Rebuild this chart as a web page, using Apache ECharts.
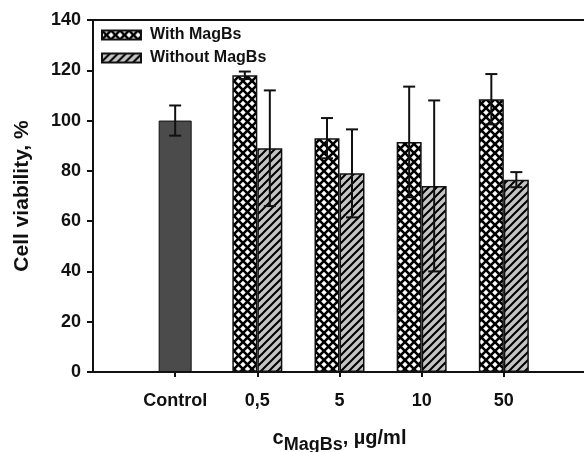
<!DOCTYPE html>
<html>
<head>
<meta charset="utf-8">
<script src="https://cdn.jsdelivr.net/npm/echarts@6/dist/echarts.min.js"></script>
<style>
  html, body { margin: 0; padding: 0; background: #fff; }
  #chart { width: 584px; height: 452px; }
</style>
</head>
<body>
<div id="chart"></div>
<script>
// data
const groups = ['0,5', '5', '10', '50'];
const categories = ['', 'Control', ...groups, ''];
const controlMean = 100;
const controlErr = 6;
const withMean = [118, 93, 91.5, 108.5];
const withErr = [1.5, 8, 22, 10];
const withoutMean = [89, 79, 74, 76.5];
const withoutErr = [23, 17.5, 34, 3];

const FONT = "'Liberation Sans', Arial, sans-serif";
const BAR_W = 25;
const CTRL_W = 33;

// hatch patterns
function crossHatch() {
  const c = document.createElement('canvas');
  c.width = 9; c.height = 9;
  const ctx = c.getContext('2d');
  ctx.fillStyle = '#fff';
  ctx.fillRect(0, 0, 9, 9);
  ctx.strokeStyle = '#000';
  ctx.lineWidth = 2.6;
  ctx.beginPath();
  ctx.moveTo(-2, -2); ctx.lineTo(11, 11);
  ctx.moveTo(-2, 11); ctx.lineTo(11, -2);
  ctx.stroke();
  return c;
}
function diagHatch() {
  const c = document.createElement('canvas');
  c.width = 8; c.height = 8;
  const ctx = c.getContext('2d');
  ctx.fillStyle = '#c4c4c4';
  ctx.fillRect(0, 0, 8, 8);
  ctx.strokeStyle = '#000';
  ctx.lineWidth = 2;
  ctx.beginPath();
  ctx.moveTo(-2, 10); ctx.lineTo(10, -2);
  ctx.moveTo(-6, 6); ctx.lineTo(6, -6);
  ctx.moveTo(2, 14); ctx.lineTo(14, 2);
  ctx.stroke();
  return c;
}

const pad = (arr) => ['-', '-', ...arr, '-'];
const controlData = categories.map(c => c === 'Control' ? controlMean : '-');

function errBars(offset) {
  return function (params, api) {
    const x = api.value(0);
    const v = api.value(1);
    const e = api.value(2);
    const top = api.coord([x, v + e]);
    const bot = api.coord([x, v - e]);
    const cx = top[0] + offset;
    const st = { stroke: '#111', lineWidth: 2 };
    return {
      type: 'group',
      children: [
        { type: 'line', shape: { x1: cx, y1: top[1], x2: cx, y2: bot[1] }, style: st },
        { type: 'line', shape: { x1: cx - 6, y1: top[1], x2: cx + 6, y2: top[1] }, style: st },
        { type: 'line', shape: { x1: cx - 6, y1: bot[1], x2: cx + 6, y2: bot[1] }, style: st }
      ]
    };
  };
}

let option = {
  animation: false,
  grid: { left: 93, top: 20, width: 493, height: 352, outerBoundsMode: 'none' },
  legend: {
    data: ['With MagBs', 'Without MagBs'],
    orient: 'vertical',
    left: 101,
    top: 27,
    icon: 'rect',
    itemWidth: 39,
    itemHeight: 9,
    itemGap: 7,
    padding: 0,
    selectedMode: false,
    textStyle: { fontFamily: FONT, fontWeight: 'bold', fontSize: 16, color: '#111', padding: [0, 0, 0, 4] }
  },
  xAxis: [
    {
      type: 'category',
      data: categories,
      boundaryGap: false,
      position: 'bottom',
      axisLine: { lineStyle: { color: '#111', width: 2 } },
      axisTick: { length: 5, interval: (i, v) => v !== '', lineStyle: { color: '#111', width: 2 } },
      axisLabel: { margin: 20, fontFamily: FONT, fontWeight: 'bold', fontSize: 18, color: '#111', interval: 0 },
      name: '{c|c}{s|MagBs}{n|, \u00b5g/ml}',
      nameLocation: 'middle',
      nameGap: 56,
      nameTextStyle: {
        fontFamily: FONT,
        color: '#111',
        rich: {
          c: { fontFamily: FONT, fontSize: 20, fontWeight: 'bold', color: '#111', verticalAlign: 'top', lineHeight: 26 },
          s: { fontFamily: FONT, fontSize: 18, fontWeight: 'bold', color: '#111', verticalAlign: 'bottom', lineHeight: 26, padding: [8, 0, 0, 0] },
          n: { fontFamily: FONT, fontSize: 20, fontWeight: 'bold', color: '#111', verticalAlign: 'top', lineHeight: 26 }
        }
      },
      splitLine: { show: false }
    },
    {
      type: 'category',
      data: categories,
      boundaryGap: false,
      position: 'top',
      axisLine: { lineStyle: { color: '#111', width: 2 } },
      axisTick: { show: false },
      axisLabel: { show: false },
      splitLine: { show: false }
    }
  ],
  yAxis: {
    type: 'value',
    min: 0,
    max: 140,
    interval: 20,
    axisLine: { show: true, lineStyle: { color: '#111', width: 2 } },
    axisTick: { show: true, length: 6, lineStyle: { color: '#111', width: 2 } },
    axisLabel: { margin: 12, fontFamily: FONT, fontWeight: 'bold', fontSize: 18, color: '#111' },
    splitLine: { show: false },
    name: 'Cell viability, %',
    nameLocation: 'middle',
    nameGap: 60,
    nameTextStyle: { fontFamily: FONT, fontWeight: 'bold', fontSize: 21, color: '#111' }
  },
  series: [
    {
      name: 'Control',
      type: 'bar',
      xAxisIndex: 1,
      barWidth: CTRL_W,
      data: controlData,
      itemStyle: { color: '#4b4b4b', borderColor: '#111', borderWidth: 1 }
    },
    {
      name: 'With MagBs',
      type: 'bar',
      barWidth: BAR_W,
      barGap: '0%',
      data: pad(withMean),
      itemStyle: { color: { image: crossHatch(), repeat: 'repeat' }, borderColor: '#111', borderWidth: 1.5 }
    },
    {
      name: 'Without MagBs',
      type: 'bar',
      barWidth: BAR_W,
      barGap: '0%',
      data: pad(withoutMean),
      itemStyle: { color: { image: diagHatch(), repeat: 'repeat' }, borderColor: '#111', borderWidth: 1.5 }
    },
    {
      type: 'custom',
      xAxisIndex: 1,
      z: 10,
      renderItem: errBars(0),
      data: [['Control', controlMean, controlErr]]
    },
    {
      type: 'custom',
      z: 10,
      renderItem: errBars(-BAR_W / 2),
      data: groups.map((g, i) => [g, withMean[i], withErr[i]])
    },
    {
      type: 'custom',
      z: 10,
      renderItem: errBars(BAR_W / 2),
      data: groups.map((g, i) => [g, withoutMean[i], withoutErr[i]])
    }
  ]
};

let myChart = echarts.init(document.getElementById('chart'));
myChart.setOption(option);
</script>
</body>
</html>
